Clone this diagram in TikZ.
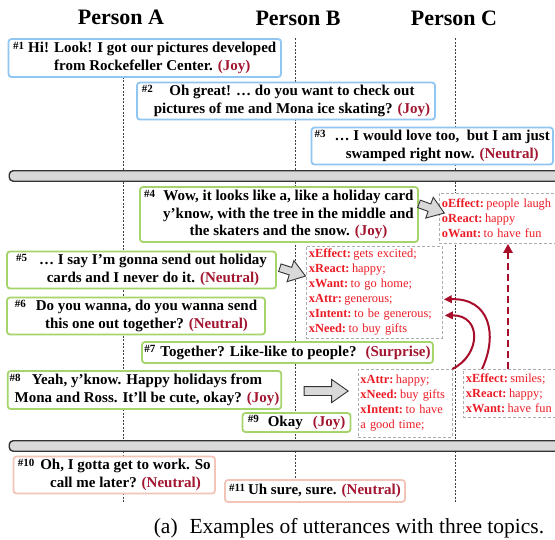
\documentclass[tikz,border=0pt]{standalone}
\usepackage{fontspec}
\setmainfont{Liberation Serif}
\usetikzlibrary{shapes.arrows,arrows.meta,calc}
\definecolor{bblue}{RGB}{146,198,242}
\definecolor{bgreen}{RGB}{164,212,106}
\definecolor{bpink}{RGB}{243,196,184}
\definecolor{emored}{RGB}{163,22,48}
\definecolor{kred}{RGB}{236,28,38}
\definecolor{arrred}{RGB}{168,14,42}
\definecolor{bargray}{RGB}{217,217,217}
\newcommand{\ulab}[1]{\raisebox{3.2pt}{\fontsize{11}{11}\selectfont\#{#1}}}
\newcommand{\uemo}[1]{\textcolor{emored}{(#1)}}
\newcommand{\kk}[2]{\textbf{#1:}\hspace{0.2em}#2}
\newcommand{\utt}[3]{\ulab{#1}\hspace{#2}\begin{tabular}[t]{@{}c@{}}#3\end{tabular}}
\begin{document}
\begin{tikzpicture}[x=1pt,y=-1pt,
 ubox/.style={draw, line width=1.8pt, rounded corners=3pt, fill=white, align=center,
   font=\bfseries\fontsize{15}{17.5}\selectfont, inner xsep=2pt, inner ysep=1pt},
 kbox/.style={draw=gray!65, dash pattern=on 3pt off 2pt, line width=0.8pt, fill=white,
   anchor=north west, align=left, text=kred, inner xsep=2.5pt, inner ysep=2pt,
   font=\fontsize{12.4}{15}\selectfont},
 head/.style={font=\bfseries\fontsize{22}{22}\selectfont, anchor=base},
 life/.style={draw=black!75, line width=0.6pt, dash pattern=on 2pt off 1.5pt},
 barbox/.style={draw=black!80, fill=bargray, line width=1.4pt, rounded corners=4pt,
   anchor=north west, minimum height=10.5pt, minimum width=570pt, inner sep=0pt},
 barrow/.style={single arrow, draw=black!80, fill=bargray, line width=0.9pt,
   inner sep=0pt, single arrow tip angle=70},
 carr/.style={draw=arrred, line width=2pt, -{Triangle[length=8pt,width=7.5pt]}},
 darr/.style={draw=arrred, line width=2.6pt, dash pattern=on 7pt off 4pt,
   -{Triangle[length=9pt,width=9pt]}},
]
\useasboundingbox (0,0) rectangle (555,539);
\clip (0,0) rectangle (555,539);
\fill[white] (0,0) rectangle (555,539);

% headers
\node[head] (pa) at (121,24) {Person A};
\node[head] (pb) at (298,25.5) {Person B};
\node[head] (pc) at (454,25.5) {Person C};

% lifelines
\coordinate (la1) at (123,38); \coordinate (la2) at (123,503);
\coordinate (lb1) at (295,38); \coordinate (lb2) at (295,503);
\coordinate (lc1) at (455,38); \coordinate (lc2) at (455,503);
\draw[life] (la1) -- (la2);
\draw[life] (lb1) -- (lb2);
\draw[life] (lc1) -- (lc2);

% topic separators
\node[barbox] (bar1) at (8.5,170) {};
\node[barbox] (bar2) at (8.5,440) {};

% topic 1
\node[ubox, draw=bblue, minimum width=272.5pt, minimum height=38pt] (b1) at (144.75,58)
  {\utt{1}{4pt}{Hi! Look! I got our pictures developed\\ from Rockefeller Center. \uemo{Joy}}};
\node[ubox, draw=bblue, minimum width=298pt, minimum height=36pt] (b2) at (286,101)
  {\utt{2}{1pt}{Oh great! … do you want to check out\\ pictures of me and Mona ice skating? \uemo{Joy}}};
\node[ubox, draw=bblue, minimum width=241.5pt, minimum height=36pt] (b3) at (432.25,146)
  {\utt{3}{9pt}{… I would love too,\ \ but I am just\\ swamped right now. \uemo{Neutral}}};

% topic 2
\node[ubox, draw=bgreen, minimum width=278pt, minimum height=55pt] (b4) at (279,214.5)
  {\utt{4}{8pt}{Wow, it looks like a, like a holiday card\\ y’know, with the tree in the middle and\\ the skaters and the snow. \uemo{Joy}}};
\node[ubox, draw=bgreen, minimum width=269pt, minimum height=34pt] (b5) at (141.5,270)
  {\utt{5}{12pt}{… I say I’m gonna send out holiday\\ cards and I never do it. \uemo{Neutral}}};
\node[ubox, draw=bgreen, minimum width=258pt, minimum height=36pt] (b6) at (136,316)
  {\utt{6}{10pt}{Do you wanna, do you wanna send\\ this one out together? \uemo{Neutral}}};
\node[ubox, draw=bgreen, minimum width=291pt, minimum height=21pt] (b7) at (287.5,352.5)
  {\ulab{7}\hspace{5pt}Together? Like-like to people?\hspace{9pt}\uemo{Surprise}};
\node[ubox, draw=bgreen, minimum width=271pt, minimum height=38pt] (b8) at (144.5,390)
  {\utt{8}{-6pt}{Yeah, y’know. Happy holidays from\\ Mona and Ross. It’ll be cute, okay? \uemo{Joy}}};
\node[ubox, draw=bgreen, minimum width=108pt, minimum height=19pt] (b9) at (296.5,422.5)
  {\ulab{9}\hspace{9pt}Okay\hspace{10pt}\uemo{Joy}};

% topic 3
\node[ubox, draw=bpink, minimum width=201.5pt, minimum height=36pt] (b10) at (114.25,475)
  {\utt{10}{6pt}{Oh, I gotta get to work. So\\ call me later? \uemo{Neutral}}};
\node[ubox, draw=bpink, minimum width=180pt, minimum height=22pt] (b11) at (315,491)
  {\ulab{11}\hspace{3pt}Uh sure, sure. \uemo{Neutral}};

% knowledge boxes
\node[kbox, text width=120pt, minimum height=50pt] (oe) at (439,193)
  {\kk{oEffect}{people laugh}\\ \kk{oReact}{happy}\\ \kk{oWant}{to have fun}};
\node[kbox, text width=131pt, minimum height=92pt] (xe) at (306,246)
  {\kk{xEffect}{gets excited;}\\ \kk{xReact}{happy;}\\ \kk{xWant}{to go home;}\\
   \kk{xAttr}{generous;}\\ \kk{xIntent}{to be generous;}\\ \kk{xNeed}{to buy gifts}};
\node[kbox, text width=89pt, minimum height=68pt] (xa) at (357.5,369)
  {\kk{xAttr}{happy;}\\ \kk{xNeed}{buy gifts}\\ \kk{xIntent}{to have}\\ a good time;};
\node[kbox, text width=100pt, minimum height=48pt] (xe2) at (463,369)
  {\kk{xEffect}{smiles;}\\ \kk{xReact}{happy;}\\ \kk{xWant}{have fun}};

% block arrows
\node[barrow, minimum height=27pt, minimum width=17pt, inner ysep=3.5pt, rotate=-20] (ar4) at (429,207.5) {};
\node[barrow, minimum height=27pt, minimum width=17pt, inner ysep=3.5pt, rotate=-18] (ar5) at (290,271) {};
\node[barrow, minimum height=44pt, minimum width=18pt, inner ysep=4pt] (ar8) at (323,391) {};

% red knowledge links
\draw[darr] ($(xe2.north west)+(45,0)$) -- ($(oe.south west)+(69,0)$);
\draw[carr] ($(xe2.north west)+(19,0)$) .. controls (498,335) and (490,298) .. ($(xe.east)+(1,7)$);
\draw[carr] (xa.north east) .. controls (481,355) and (482,315) .. ($(xe.east)+(2,23)$);

% caption
\node[anchor=base, font=\fontsize{21.5}{21.5}\selectfont] (cap) at (349,533)
  {(a)\hspace{0.55em}Examples of utterances with three topics.};
\end{tikzpicture}
\end{document}
